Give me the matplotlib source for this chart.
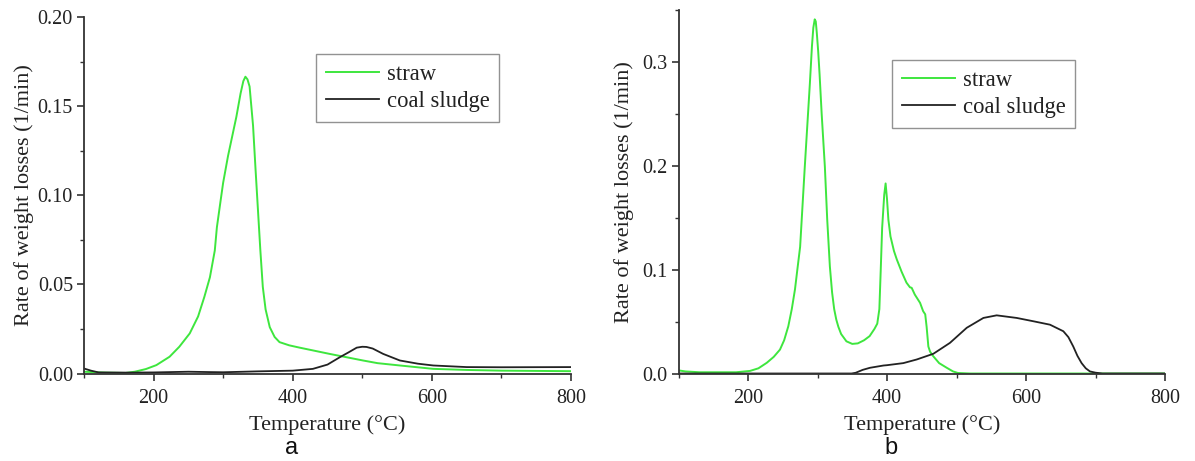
import matplotlib
matplotlib.use("Agg")
import matplotlib.pyplot as plt
from matplotlib.ticker import MultipleLocator

# ---------------- data ----------------
# panel a
straw_a_T = [100, 130, 160, 173, 189, 204, 223, 237, 252, 264, 273, 281, 288, 291, 296, 300, 307,
             313, 319, 325, 329, 332, 335, 338, 343, 346.5, 350, 353.5, 357, 361, 367, 374, 381,
             395, 410, 453, 501, 522, 554, 602, 650, 700, 800]
straw_a = [0.0010, 0.0005, 0.0003, 0.0010, 0.0025, 0.0047, 0.0094, 0.015, 0.0225, 0.032, 0.043,
           0.054, 0.069, 0.082, 0.096, 0.107, 0.122, 0.133, 0.144, 0.157, 0.164, 0.1665, 0.165,
           0.161, 0.139, 0.115, 0.092, 0.069, 0.0486, 0.036, 0.026, 0.0205, 0.0176, 0.0158,
           0.0145, 0.011, 0.0073, 0.0058, 0.0045, 0.0026, 0.0020, 0.0016, 0.0013]

sludge_a_T = [100, 110, 121, 160, 200, 250, 280, 300, 350, 400, 429, 450, 468, 480, 492, 500, 506,
              515, 530, 554, 580, 602, 650, 700, 800]
sludge_a = [0.0028, 0.0016, 0.0006, 0.0005, 0.0006, 0.0010, 0.0008, 0.0007, 0.0012, 0.0016,
            0.0026, 0.0050, 0.0092, 0.0118, 0.0145, 0.0150, 0.0149, 0.0140, 0.0110, 0.0073,
            0.0055, 0.0045, 0.0036, 0.0035, 0.0036]

# panel b
straw_b_T = [100, 110, 130, 150, 183, 203, 215, 227, 237, 246, 252, 258, 263, 267.6, 271, 275,
             281.7, 289, 292, 294, 296, 297.5, 299, 301, 303, 306, 310.6, 314, 317.8, 321, 324,
             327, 330, 334, 341.6, 350, 358, 367, 375, 382, 386, 389, 391, 393, 396, 398, 400,
             402, 405, 410, 414, 421, 428, 433, 435.5, 440, 447.6, 452, 455, 457, 459.5, 462,
             466.6, 475, 486, 495, 502, 520, 600, 700, 800]
straw_b = [0.003, 0.002, 0.0012, 0.0012, 0.0012, 0.0025, 0.005, 0.0103, 0.016, 0.023, 0.032,
           0.0455, 0.062, 0.081, 0.100, 0.122, 0.199, 0.279, 0.315, 0.333, 0.341, 0.339, 0.328,
           0.310, 0.288, 0.250, 0.199, 0.148, 0.103, 0.078, 0.062, 0.052, 0.045, 0.038, 0.031,
           0.0285, 0.029, 0.032, 0.036, 0.043, 0.048, 0.062, 0.100, 0.140, 0.172, 0.183, 0.168,
           0.148, 0.132, 0.118, 0.110, 0.098, 0.0875, 0.083, 0.0825, 0.076, 0.068, 0.060, 0.057,
           0.045, 0.026, 0.021, 0.0166, 0.010, 0.0055, 0.002, 0.0005, 0.0, 0.0, 0.0, 0.0]

sludge_b_T = [100, 300, 349, 355, 365, 375.5, 395, 400, 423.5, 442.8, 466.7, 490.6, 514.7, 538.7,
              557.8, 586.6, 610.6, 634.5, 653.7, 661, 668, 674, 680, 686, 692, 700, 710, 800]
sludge_b = [0.0, 0.0, 0.0, 0.0007, 0.0035, 0.0055, 0.0077, 0.008, 0.010, 0.0135, 0.019, 0.0295,
            0.044, 0.0535, 0.056, 0.0535, 0.0503, 0.047, 0.0407, 0.035, 0.026, 0.017, 0.010,
            0.005, 0.002, 0.0008, 0.0, 0.0]

series_labels = ["straw", "coal sludge"]
xlabel = "Temperature (°C)"
ylabel = "Rate of weight losses (1/min)"
panel_tags = ["a", "b"]

# ---------------- style ----------------
GREEN = "#3ee63e"
BLACK = "#222222"
SPINE = "#333333"
W, H = 1195, 461

plt.rcParams["font.family"] = ["Liberation Serif", "DejaVu Serif"]

fig = plt.figure(figsize=(W / 100, H / 100), dpi=100)

def px_axes(l, r, b, t):
    return fig.add_axes([l / W, 1 - b / H, (r - l) / W, (b - t) / H])

ax_a = px_axes(84, 571, 373.5, 17)
ax_b = px_axes(678.5, 1165, 373.5, 10)

def style(ax, ymax, ymajor, yminor, fmt, ylabelpad):
    ax.set_xlim(100, 800)
    ax.set_ylim(0, ymax)
    ax.xaxis.set_major_locator(MultipleLocator(200))
    ax.xaxis.set_minor_locator(MultipleLocator(100))
    ax.yaxis.set_major_locator(MultipleLocator(ymajor))
    ax.yaxis.set_minor_locator(MultipleLocator(yminor))
    ax.yaxis.set_major_formatter(plt.FormatStrFormatter(fmt))
    for s in ["top", "right"]:
        ax.spines[s].set_visible(False)
    for s in ["left", "bottom"]:
        ax.spines[s].set_color(SPINE)
        ax.spines[s].set_linewidth(1.3)
    ax.tick_params(which="major", direction="out", length=5, width=1.2, color=SPINE,
                   labelsize=14.5, labelcolor="#222222")
    ax.tick_params(axis="x", which="major", pad=6)
    ax.tick_params(axis="y", which="major", pad=3)
    ax.tick_params(which="minor", direction="out", length=3, width=1.0, color=SPINE)
    ax.set_xlabel(xlabel, fontsize=16, color="#222222", labelpad=5.5)
    ax.set_ylabel(ylabel, fontsize=16, color="#222222", labelpad=ylabelpad)

# panel a
ax_a.plot(straw_a_T, straw_a, color=GREEN, lw=1.4, label=series_labels[0])
ax_a.plot(sludge_a_T, sludge_a, color=BLACK, lw=1.3, label=series_labels[1])
style(ax_a, 0.20, 0.05, 0.025, "%.2f", 2.5)

# panel b
ax_b.plot(straw_b_T, straw_b, color=GREEN, lw=1.4, label=series_labels[0])
ax_b.plot(sludge_b_T, sludge_b, color=BLACK, lw=1.3, label=series_labels[1])
style(ax_b, 0.35, 0.1, 0.05, "%.1f", 6)

def legend(ax, x, y):
    leg = ax.legend(loc="upper left", bbox_to_anchor=(x / W, 1 - y / H),
                    bbox_transform=fig.transFigure, borderaxespad=0, fontsize=16.3,
                    frameon=True, fancybox=False, handlelength=2.35, handletextpad=0.35,
                    labelspacing=0.3, borderpad=0.42)
    fr = leg.get_frame()
    fr.set_edgecolor("#777777")
    fr.set_linewidth(1.0)
    for t in leg.get_texts():
        t.set_color("#222222")
    return leg

legend(ax_a, 316, 54)
legend(ax_b, 892, 60)

for tag, x in zip(panel_tags, [291.7, 891]):
    fig.text(x / W, 1 - 448 / H, tag, ha="center", va="center", fontsize=17,
             family=["Liberation Sans", "DejaVu Sans"], color="#111111")

fig.savefig("out.png", dpi=100)
